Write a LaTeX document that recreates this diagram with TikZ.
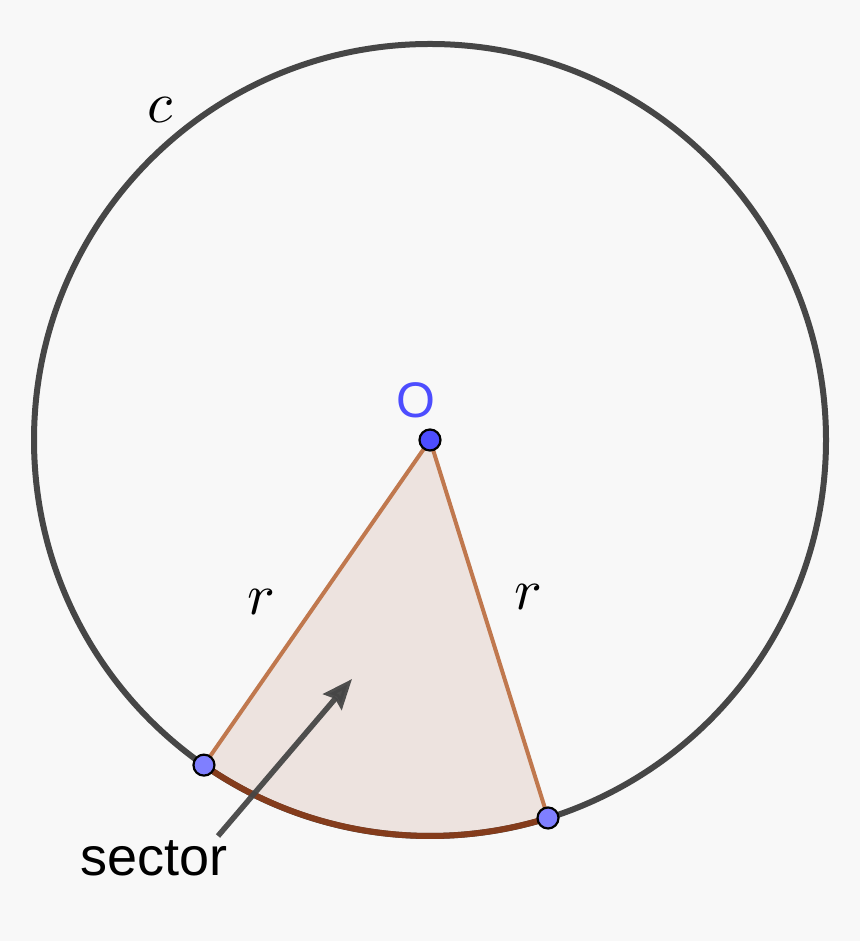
\documentclass[tikz,border=0pt]{standalone}
\usepackage{fontspec}
\setmainfont{Liberation Sans}
\usetikzlibrary{arrows.meta}
\definecolor{bg}{HTML}{F8F8F8}
\definecolor{circ}{HTML}{464646}
\definecolor{side}{HTML}{C0784E}
\definecolor{arcc}{HTML}{843C1C}
\definecolor{fillc}{HTML}{EDE3DF}
\definecolor{ptA}{HTML}{7F7FFF}
\definecolor{ptO}{HTML}{4D4DFF}
\definecolor{labO}{HTML}{4D4DFF}
\tikzset{
  pt/.style={circle, draw=black, line width=2.2pt, fill=ptA, minimum size=21pt, inner sep=0pt},
  ptc/.style={pt, fill=ptO},
  mathlab/.style={font=\fontsize{10}{12}\selectfont, inner sep=0pt, transform shape, scale=5.8},
  txt/.style={font=\fontsize{54}{58}\selectfont, inner sep=0pt},
  pointer/.style={draw=circ, line width=5.5pt, -{Stealth[length=30pt, width=24pt, inset=4pt]}}
}
\begin{document}
\begin{tikzpicture}[x=1pt,y=1pt]
  \fill[bg] (0,0) rectangle (860,941);
  \useasboundingbox (0,0) rectangle (860,941);
  \coordinate (Oc) at (430,501);
  \path (Oc) ++(235.19:396) coordinate (Ac);
  \path (Oc) ++(287.34:396) coordinate (Bc);
  % sector fill
  \fill[fillc] (Oc) -- (Ac) arc[start angle=235.19, end angle=287.34, radius=396] -- cycle;
  % circle c
  \draw[circ, line width=6pt] (Oc) circle[radius=396];
  % arc of sector
  \draw[arcc, line width=6pt] (Ac) arc[start angle=235.19, end angle=287.34, radius=396];
  % radii
  \draw[side, line width=4pt] (Ac) -- (Oc) -- (Bc);
  % labels
  \node[mathlab] (lc) at (160,831) {$c$};
  \node[mathlab] (r1) at (261,339) {$r$};
  \node[mathlab] (r2) at (528,344) {$r$};
  \node[font=\fontsize{50}{54}\selectfont, text=labO, inner sep=0pt] (lO) at (416,541) {O};
  \node[txt, anchor=base] (sec) at (154,65) {sector};
  % pointer arrow
  \coordinate (arrS) at (218,105);
  \coordinate (arrE) at (352,262);
  \draw[pointer, opacity=0.95] (arrS) -- (arrE);
  % points
  \node[pt] (A) at (Ac) {};
  \node[pt] (B) at (Bc) {};
  \node[ptc] (O) at (Oc) {};
\end{tikzpicture}
\end{document}
